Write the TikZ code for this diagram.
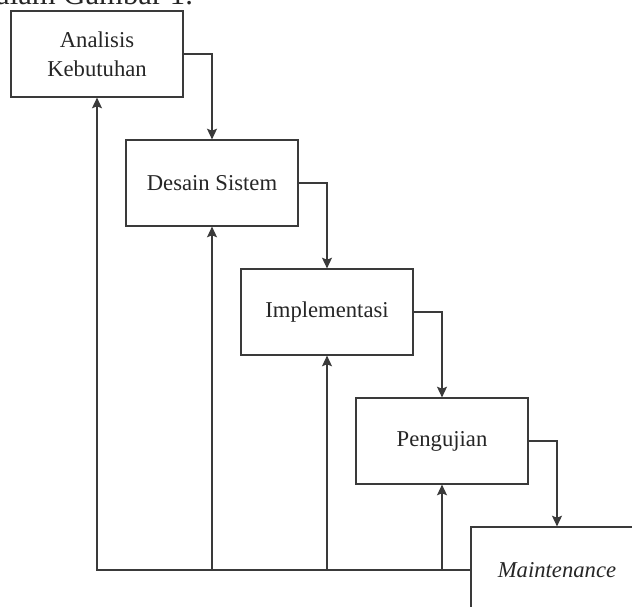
\documentclass[tikz,border=0pt]{standalone}
\usepackage{fontspec}
\setmainfont{Liberation Serif}
\usetikzlibrary{arrows.meta}
\definecolor{linegray}{HTML}{3A3A3A}
\begin{document}
\begin{tikzpicture}[x=0.75pt,y=-0.75pt,
  box/.style={draw=linegray, line width=0.9pt, fill=white, minimum width=129pt, minimum height=64.5pt,
    inner sep=0pt, align=center, font=\fontsize{17}{22}\selectfont, text=black!85},
  conn/.style={draw=linegray, line width=0.9pt},
  arr/.style={conn, -{Stealth[length=8pt,width=7.5pt,inset=1.5pt]}}
]
\useasboundingbox (0,0) rectangle (632,607);
\clip (0,0) rectangle (632,607);
\node[anchor=base west, font=\fontsize{23}{27}\selectfont, inner sep=0pt, text=black!85] (cap) at (-19.4,4.5) {dalam Gambar 1.};
\node[box] (b1) at (97,54) {Analisis\\Kebutuhan};
\node[box] (b2) at (212,183) {Desain Sistem};
\node[box] (b3) at (327,312) {Implementasi};
\node[box] (b4) at (442,441) {Pengujian};
\node[box, font=\fontsize{17}{22}\selectfont\itshape] (b5) at (557,570) {Maintenance};
% forward flow
\draw[arr] (b1.east) -| (b2.north);
\draw[arr] (b2.east) -| (b3.north);
\draw[arr] (b3.east) -| (b4.north);
\draw[arr] (b4.east) -| (b5.north);
% feedback
\coordinate (f1) at (b1.south |- b5.west);
\coordinate (f2) at (b2.south |- b5.west);
\coordinate (f3) at (b3.south |- b5.west);
\coordinate (f4) at (b4.south |- b5.west);
\draw[arr] (b5.west) -- (f1) -- (b1.south);
\draw[arr] (f2) -- (b2.south);
\draw[arr] (f3) -- (b3.south);
\draw[arr] (f4) -- (b4.south);
\end{tikzpicture}
\end{document}
